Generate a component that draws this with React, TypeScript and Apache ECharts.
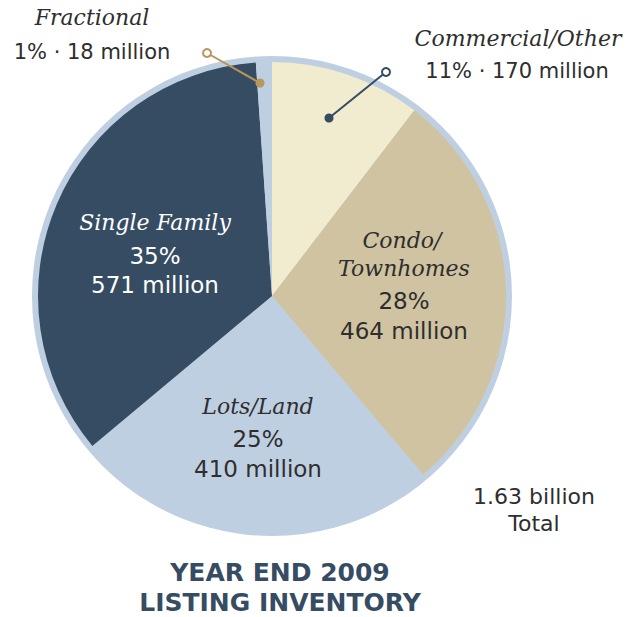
import React, { useEffect, useRef } from "react";
import * as echarts from "echarts";

const categories = ["Commercial/Other", "Condo/Townhomes", "Lots/Land", "Single Family", "Fractional"];
const valuesMillions = [170, 464, 410, 571, 18];
const percentLabels = ["11%", "28%", "25%", "35%", "1%"];
const amountLabels = ["170 million", "464 million", "410 million", "571 million", "18 million"];
const sliceColors = ["#f1ebd0", "#d0c3a1", "#bfcfe2", "#364c63", "#bfcfe2"];
const totalLabel = ["1.63 billion", "Total"];
const titleLines = ["YEAR END 2009", "LISTING INVENTORY"];

const SERIF = "'DejaVu Serif', serif";
const SANS = "'DejaVu Sans', 'Noto Sans', sans-serif";
const DARK = "#2e2e2e";
const NAVY = "#364c63";
const GOLD = "#b8975a";

function txt(x: number, y: number, text: string, opts: any = {}) {
  return {
    type: "text",
    x,
    y,
    style: {
      text,
      fill: opts.fill || DARK,
      font: opts.font || `400 22px ${SANS}`,
      align: opts.align || "center",
      verticalAlign: "middle",
    },
    z: 100,
  };
}

export default function App() {
  const ref = useRef<HTMLDivElement>(null);
  useEffect(() => {
    if (!ref.current) return;
    const chart = echarts.init(ref.current, null, { renderer: "svg" });
    const italic = (size: number) => `italic 400 ${size}px ${SERIF}`;
    const sans = (size: number) => `400 ${size}px ${SANS}`;
    const graphic: any[] = [
      // Fractional annotation
      txt(92, 17, categories[4], { font: italic(22) }),
      txt(92, 52, `${percentLabels[4]} · ${amountLabels[4]}`, { font: sans(21) }),
      { type: "line", shape: { x1: 207, y1: 53, x2: 260, y2: 83 }, style: { stroke: GOLD, lineWidth: 2 }, z: 90 },
      { type: "circle", shape: { cx: 207, cy: 53, r: 4 }, style: { fill: "#fff", stroke: GOLD, lineWidth: 2 }, z: 91 },
      { type: "circle", shape: { cx: 260, cy: 83, r: 4.5 }, style: { fill: GOLD }, z: 91 },
      // Commercial annotation
      txt(518, 38, categories[0], { font: italic(22) }),
      txt(517, 71, `${percentLabels[0]} · ${amountLabels[0]}`, { font: sans(21) }),
      { type: "line", shape: { x1: 386, y1: 72, x2: 329, y2: 118 }, style: { stroke: NAVY, lineWidth: 2 }, z: 90 },
      { type: "circle", shape: { cx: 386, cy: 72, r: 4 }, style: { fill: "#fff", stroke: NAVY, lineWidth: 2 }, z: 91 },
      { type: "circle", shape: { cx: 329, cy: 118, r: 4.5 }, style: { fill: NAVY }, z: 91 },
      // Single Family
      txt(155, 222, categories[3], { font: italic(22), fill: "#ffffff" }),
      txt(155, 256, percentLabels[3], { font: sans(23), fill: "#ffffff" }),
      txt(155, 285, amountLabels[3], { font: sans(23), fill: "#ffffff" }),
      // Condo
      txt(402, 240, "Condo/", { font: italic(22) }),
      txt(404, 268, "Townhomes", { font: italic(22) }),
      txt(404, 301, percentLabels[1], { font: sans(23) }),
      txt(404, 331, amountLabels[1], { font: sans(23) }),
      // Lots/Land
      txt(258, 406, categories[2], { font: italic(22) }),
      txt(258, 439, percentLabels[2], { font: sans(23) }),
      txt(258, 469, amountLabels[2], { font: sans(23) }),
      // Total
      txt(534, 496, totalLabel[0], { font: sans(22) }),
      txt(534, 523, totalLabel[1], { font: sans(22) }),
      // Title
      txt(280, 572, titleLines[0], { font: `700 25px ${SANS}`, fill: NAVY }),
      txt(280, 602, titleLines[1], { font: `700 25px ${SANS}`, fill: NAVY }),
    ];
    chart.setOption({
      animation: false,
      backgroundColor: "#ffffff",
      graphic,
      series: [
        {
          type: "pie",
          silent: true,
          center: [272, 296],
          radius: [0, 240],
          z: 1,
          label: { show: false },
          labelLine: { show: false },
          data: [{ value: 1, itemStyle: { color: "#bfcfe2" } }],
        },
        {
          type: "pie",
          center: [272, 296],
          radius: [0, 234],
          startAngle: 90,
          clockwise: true,
          z: 2,
          label: { show: false },
          labelLine: { show: false },
          itemStyle: { borderWidth: 0 },
          data: categories.map((name, i) => ({
            name,
            value: valuesMillions[i],
            itemStyle: { color: sliceColors[i] },
          })),
        },
      ],
    });
    return () => chart.dispose();
  }, []);
  return (
    <div
      ref={ref}
      style={{ position: "fixed", left: 0, top: 0, width: 639, height: 617, background: "#fff" }}
    />
  );
}
